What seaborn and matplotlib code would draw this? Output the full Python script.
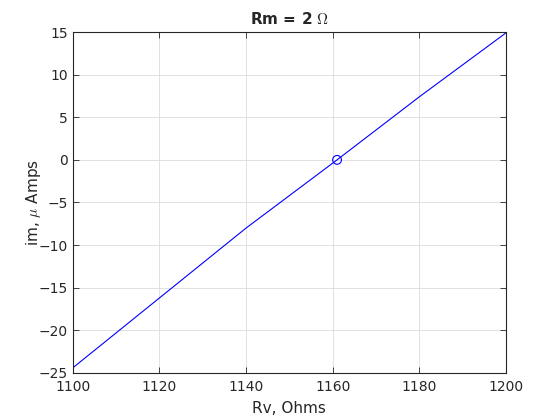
import numpy as np
import pandas as pd
import matplotlib
matplotlib.use("Agg")
import matplotlib.pyplot as plt
import seaborn as sns

# ── Data ──────────────────────────────────────────────────────────────────────
rv_ohms = [1100, 1120, 1140, 1161, 1180, 1200]
im_uamps = [-24.4, -16.2, -8.0, 0.0, 7.4, 14.9]
zero_rv = [1161]
zero_im = [0]

x_ticks = [1100, 1120, 1140, 1160, 1180, 1200]
y_ticks = [-25, -20, -15, -10, -5, 0, 5, 10, 15]

# ── Style ─────────────────────────────────────────────────────────────────────
sns.set_theme(style="ticks")
plt.rcParams["font.family"] = ["DejaVu Sans"]
plt.rcParams["mathtext.fontset"] = "cm"
plt.rcParams["xtick.direction"] = "in"
plt.rcParams["ytick.direction"] = "in"

fig = plt.figure(figsize=(5.6, 4.2), dpi=100)
ax = fig.add_axes([0.13, 0.112, 0.7736, 0.8118])

line_df = pd.DataFrame({"Rv": rv_ohms, "im": im_uamps})
zero_df = pd.DataFrame({"Rv": zero_rv, "im": zero_im})

sns.lineplot(data=line_df, x="Rv", y="im", ax=ax, color="#0000ff", linewidth=0.8)
sns.scatterplot(data=zero_df, x="Rv", y="im", ax=ax, marker="o",
                facecolor="none", edgecolor="#0000ff", s=40, linewidth=0.8)

ax.set_xlim(1100, 1200)
ax.set_ylim(-25, 15)
ax.set_xticks(x_ticks)
ax.set_yticks(y_ticks)
ax.grid(True, color="#dcdcdc", linewidth=0.6)
ax.set_axisbelow(True)
for side in ["top", "right", "bottom", "left"]:
    ax.spines[side].set_visible(True)
    ax.spines[side].set_color("#262626")
    ax.spines[side].set_linewidth(0.8)
ax.tick_params(labelsize=10, colors="#262626", length=4, width=0.6,
               top=True, right=True)
ax.tick_params(axis="x", pad=5)

ax.set_xlabel("Rv, Ohms", fontsize=11, color="#262626", labelpad=5)
ax.set_ylabel(r"im, $\mu$ Amps", fontsize=11, color="#262626", labelpad=-3)
ax.set_title(r"Rm = 2 $\Omega$", fontsize=11, fontweight="bold", pad=6)

fig.savefig("out.png", dpi=100, facecolor="white")
